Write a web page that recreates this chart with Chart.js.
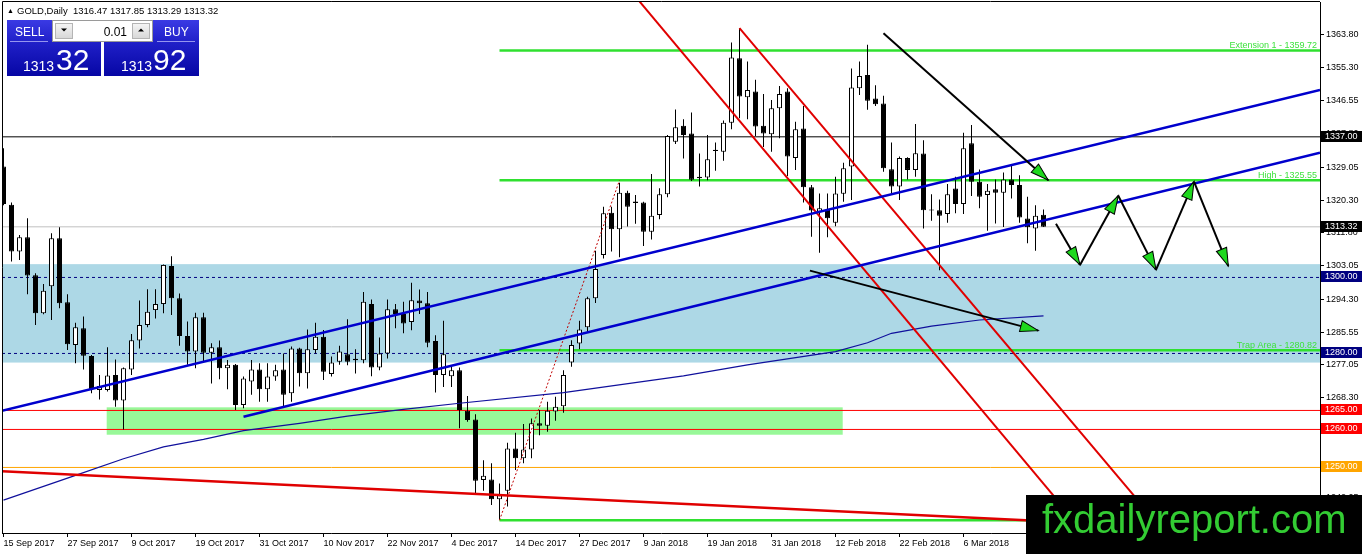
<!DOCTYPE html>
<html>
<head>
<meta charset="utf-8">
<script src="https://cdn.jsdelivr.net/npm/chart.js@4.4.1/dist/chart.umd.min.js"></script>
<style>
  body { margin: 0; background: #fff; }
  #wrap { position: relative; width: 1362px; height: 554px; overflow: hidden; }
</style>
</head>
<body>
<div id="wrap"><canvas id="myChart" width="1362" height="554"></canvas></div>
<script>
// GOLD daily candles, one per trading day from 15 Sep 2017
const opens = [
  1329.2, 1319.1, 1306.8, 1310.6, 1300.6, 1290.6, 1297.7, 1310.3, 1293.5, 1282.2,
  1286.6, 1279.3, 1270.4, 1270.4, 1274.3, 1267.6, 1275.8, 1283.4, 1287.5, 1291.4,
  1293.0, 1303.0, 1294.5, 1284.6, 1280.5, 1289.5, 1280.2, 1281.6, 1276.1, 1277.0,
  1266.4, 1272.6, 1275.8, 1270.6, 1273.9, 1275.8, 1269.5, 1281.3, 1274.8, 1280.9,
  1284.4, 1274.6, 1277.8, 1279.8, 1278.2, 1278.2, 1293.0, 1276.3, 1280.0, 1291.6,
  1290.4, 1288.3, 1293.9, 1293.2, 1283.3, 1274.3, 1274.0, 1275.6, 1264.9, 1262.6,
  1246.7, 1246.8, 1241.6, 1243.9, 1255.0, 1252.4, 1254.7, 1261.6, 1261.0, 1264.7,
  1266.1, 1277.6, 1282.6, 1286.9, 1294.5, 1305.9, 1317.0, 1312.7, 1322.3, 1320.0,
  1319.7, 1312.0, 1316.4, 1321.9, 1335.7, 1339.9, 1337.9, 1326.5, 1326.3, 1333.3,
  1333.1, 1340.7, 1357.7, 1347.4, 1348.9, 1339.9, 1337.7, 1344.5, 1348.9, 1331.4,
  1339.2, 1323.7, 1317.3, 1317.9, 1314.4, 1322.0, 1329.2, 1349.8, 1353.3, 1347.1,
  1345.8, 1328.5, 1323.9, 1331.4, 1328.3, 1332.6, 1317.6, 1317.7, 1316.7, 1323.4,
  1319.3, 1335.3, 1325.2, 1321.7, 1323.2, 1322.3, 1325.8, 1324.3, 1315.5, 1312.9,
  1316.47
];
const highs = [
  1334.0, 1319.7, 1311.2, 1315.6, 1301.1, 1298.3, 1311.6, 1313.2, 1295.6, 1288.1,
  1289.7, 1279.6, 1274.3, 1281.6, 1278.4, 1276.3, 1285.1, 1293.9, 1296.9, 1296.9,
  1303.4, 1305.6, 1295.8, 1288.4, 1290.7, 1290.7, 1282.7, 1283.4, 1278.3, 1277.2,
  1273.9, 1278.3, 1277.4, 1277.4, 1277.0, 1280.0, 1281.8, 1281.5, 1286.3, 1288.1,
  1286.2, 1279.2, 1282.0, 1289.0, 1281.1, 1296.2, 1294.2, 1284.2, 1294.2, 1293.0,
  1293.6, 1298.6, 1296.8, 1296.2, 1284.8, 1288.6, 1276.9, 1276.3, 1268.8, 1264.0,
  1251.9, 1251.1, 1245.8, 1256.5, 1259.1, 1261.4, 1262.9, 1265.1, 1267.3, 1268.6,
  1275.6, 1283.5, 1288.6, 1294.9, 1307.0, 1318.6, 1318.6, 1324.9, 1322.8, 1321.7,
  1319.9, 1327.2, 1323.5, 1337.5, 1344.2, 1341.6, 1343.4, 1332.6, 1337.5, 1335.5,
  1341.3, 1361.8, 1365.6, 1356.8, 1352.0, 1348.3, 1346.7, 1350.4, 1349.8, 1341.0,
  1345.1, 1324.3, 1322.1, 1322.1, 1326.5, 1330.2, 1355.0, 1356.8, 1361.2, 1350.6,
  1347.8, 1335.5, 1331.8, 1331.6, 1340.4, 1336.1, 1321.9, 1320.5, 1324.6, 1326.5,
  1338.1, 1340.1, 1328.4, 1324.6, 1325.8, 1327.6, 1329.3, 1326.9, 1321.2, 1319.0,
  1317.85
];
const lows = [
  1319.0, 1304.2, 1304.6, 1295.6, 1287.5, 1290.3, 1288.8, 1291.9, 1280.9, 1277.4,
  1275.8, 1269.5, 1267.9, 1270.0, 1266.0, 1260.0, 1274.3, 1281.3, 1286.9, 1289.2,
  1290.6, 1290.1, 1282.0, 1277.0, 1276.1, 1277.8, 1272.1, 1273.2, 1270.6, 1265.1,
  1265.6, 1269.1, 1267.3, 1267.3, 1272.8, 1266.0, 1267.3, 1271.3, 1270.8, 1280.0,
  1273.0, 1273.9, 1277.0, 1276.9, 1274.7, 1277.4, 1274.0, 1275.6, 1278.7, 1286.6,
  1285.3, 1286.1, 1290.4, 1281.6, 1269.7, 1271.2, 1271.2, 1260.3, 1262.0, 1243.3,
  1243.9, 1240.1, 1236.3, 1239.7, 1249.3, 1251.1, 1252.4, 1258.5, 1259.4, 1262.3,
  1264.4, 1276.5, 1281.1, 1285.4, 1293.3, 1305.0, 1306.8, 1305.3, 1313.4, 1314.1,
  1308.3, 1310.0, 1315.3, 1321.1, 1335.1, 1331.3, 1325.4, 1323.9, 1325.6, 1328.1,
  1330.7, 1339.0, 1341.9, 1341.6, 1337.2, 1334.3, 1333.1, 1336.6, 1326.7, 1328.3,
  1319.7, 1310.7, 1306.5, 1310.6, 1313.5, 1319.9, 1320.4, 1348.0, 1344.1, 1345.1,
  1327.8, 1322.1, 1320.4, 1325.8, 1326.5, 1312.9, 1314.9, 1301.9, 1314.4, 1316.9,
  1316.7, 1321.4, 1318.2, 1312.3, 1314.2, 1313.3, 1320.8, 1314.4, 1309.0, 1307.0,
  1313.29
];
const closes = [
  1319.3, 1306.8, 1310.6, 1300.5, 1290.6, 1296.5, 1310.3, 1293.2, 1282.4, 1286.9,
  1279.4, 1270.6, 1271.4, 1274.2, 1267.6, 1276.1, 1283.5, 1287.5, 1291.0, 1293.0,
  1303.3, 1294.5, 1284.6, 1280.5, 1289.5, 1280.2, 1281.6, 1276.1, 1277.0, 1266.4,
  1273.4, 1275.8, 1270.6, 1273.9, 1275.6, 1269.1, 1281.3, 1274.8, 1281.1, 1284.4,
  1275.2, 1277.6, 1280.5, 1277.8, 1278.6, 1293.6, 1276.3, 1280.0, 1291.6, 1290.4,
  1287.9, 1294.0, 1293.2, 1282.8, 1274.3, 1279.8, 1275.6, 1265.1, 1262.5, 1246.5,
  1247.8, 1241.6, 1242.7, 1255.0, 1252.4, 1254.7, 1261.6, 1261.0, 1264.9, 1266.0,
  1274.3, 1282.2, 1286.3, 1294.5, 1302.2, 1316.9, 1312.7, 1322.3, 1318.6, 1319.6,
  1312.0, 1316.2, 1321.9, 1337.2, 1339.5, 1337.5, 1325.7, 1326.1, 1331.1, 1333.6,
  1340.7, 1357.9, 1347.6, 1349.3, 1339.7, 1337.9, 1344.5, 1348.3, 1331.8, 1339.0,
  1323.7, 1317.6, 1318.2, 1315.6, 1322.1, 1328.7, 1350.0, 1353.0, 1346.5, 1345.6,
  1328.7, 1323.9, 1331.4, 1328.3, 1332.7, 1317.7, 1317.9, 1316.2, 1321.9, 1319.3,
  1334.0, 1325.2, 1321.2, 1322.8, 1322.3, 1325.8, 1324.3, 1315.8, 1313.2, 1316.2,
  1313.32
];

// time axis labels, one every 8 bars
const dateTickBars = [0, 8, 16, 24, 32, 40, 48, 56, 64, 72, 80, 88, 96, 104, 112, 120];
const dateLabels = ['15 Sep 2017', '27 Sep 2017', '9 Oct 2017', '19 Oct 2017', '31 Oct 2017',
  '10 Nov 2017', '22 Nov 2017', '4 Dec 2017', '14 Dec 2017', '27 Dec 2017', '9 Jan 2018',
  '19 Jan 2018', '31 Jan 2018', '12 Feb 2018', '22 Feb 2018', '6 Mar 2018'];
const priceTicks = [1363.80, 1355.30, 1346.55, 1337.80, 1329.05, 1320.30, 1311.80, 1303.05,
  1294.30, 1285.55, 1277.05, 1268.30, 1259.55, 1250.80, 1242.05];

// moving average, read at a few bars
const maBars = [0, 9, 15, 20, 25, 30, 37, 43, 50, 57, 70, 85, 93, 104, 108, 111, 116, 122, 130];
const maValues = [1241.4, 1247.9, 1252.3, 1255.4, 1257.4, 1259.7, 1261.6, 1263.5, 1265.3, 1266.9,
  1269.7, 1274.1, 1277.0, 1280.5, 1282.8, 1285.3, 1287.2, 1288.8, 1289.9];

// horizontal price levels
const levelPrices = [1337.00, 1313.32, 1300.00, 1280.00, 1265.00, 1260.00, 1250.00];

// fibonacci drawn from the December low to the January high
const fibNames = ['Extension 1', 'High', 'Trap Area', 'Low'];
const fibPrices = [1359.72, 1325.55, 1280.82, 1236.09];
const fibStartBar = 62;
const fibTrend = [[62, 1236.09], [77, 1325.55]];

// zones [from bar, to bar, top, bottom]
const trapZone = [null, null, 1303.5, 1277.6];
const supportBox = [12.9, 104.9, 1265.82, 1258.61];

// trend lines as [bar, price] pairs
const blueUpper = [[-0.19, 1264.9], [164.56, 1349.33]];
const blueLower = [[30, 1263.35], [164.56, 1332.83]];
const redLower = [[-0.19, 1249.0], [164.56, 1232.4]];
const redChannel1 = [[78, 1376.4], [140, 1220.6]];
const redChannel2 = [[92, 1365.6], [150, 1220.9]];
const arrowDown1 = [[110, 1364.25], [130.6, 1325.6]];
const arrowDown2 = [[100.8, 1301.8], [129.35, 1286.0]];
const zigzag = [[131.56, 1314.1], [134.56, 1303.3], [139.35, 1321.5], [144.06, 1302.0],
  [148.81, 1325.2], [153.1, 1303.0]];

const xMin = -0.1875, xMax = 164.5625;
const yMin = 1232.75, yMax = 1372.48;

const levelColors = ['#000000', '#c0c0c0', '#000080', '#000080', '#ff0000', '#ff0000', '#ffa500'];
const tagColors = ['#000000', '#000000', '#000080', '#000080', '#ff0000', '#ff0000', '#ffa500'];
const fibColor = '#2fe02f';
const FONT = '"Liberation Sans", Arial, sans-serif';

function lineSet(points, color, width, order, extra) {
  return Object.assign({
    type: 'line',
    data: points.map(p => ({ x: p[0], y: p[1] })),
    borderColor: color,
    borderWidth: width,
    pointRadius: 0,
    fill: false,
    tension: 0,
    clip: 0,
    order: order
  }, extra || {});
}

const datasets = [];

// arrows and trend lines on top
for (let k = 0; k < zigzag.length - 1; k++) {
  datasets.push(lineSet([zigzag[k], zigzag[k + 1]], '#000', 2, 1, { arrow: true }));
}
datasets.push(lineSet(arrowDown1, '#000', 2, 1, { arrow: true }));
datasets.push(lineSet(arrowDown2, '#000', 2, 1, { arrow: true }));
datasets.push(lineSet(blueUpper, '#0000cd', 2.5, 2));
datasets.push(lineSet(blueLower, '#0000cd', 2.5, 2));
datasets.push(lineSet(redChannel1, '#e00000', 2, 2));
datasets.push(lineSet(redChannel2, '#e00000', 2, 2));
datasets.push(lineSet(redLower, '#e00000', 2.5, 2));
datasets.push(lineSet(maBars.map((b, k) => [b, maValues[k]]), '#10109c', 1.2, 3));
datasets.push(lineSet(fibTrend, '#c00000', 1, 3, { borderDash: [2, 2] }));

// candles
datasets.push({
  type: 'bar',
  data: closes.map((c, i) => ({ x: i, y: [opens[i], c] })),
  backgroundColor: closes.map((c, i) => (c >= opens[i] ? '#ffffff' : '#000000')),
  borderColor: '#000',
  borderWidth: 1,
  borderSkipped: false,
  barThickness: 5,
  inflateAmount: 0,
  grouped: false,
  order: 9
});
datasets.push({
  type: 'bar',
  data: closes.map((c, i) => ({ x: i, y: [lows[i], highs[i]] })),
  backgroundColor: '#000',
  borderWidth: 0,
  barThickness: 1,
  inflateAmount: 0,
  grouped: false,
  order: 10
});

// fibonacci levels and horizontal lines behind the candles
fibPrices.forEach(p => datasets.push(lineSet([[fibStartBar, p], [xMax, p]], fibColor, 2.5, 12)));
levelPrices.forEach((p, k) => {
  datasets.push(lineSet([[xMin, p], [xMax, p]], levelColors[k], 1, 13,
    levelColors[k] === '#000080' ? { borderDash: [3, 3] } : {}));
});

function arrowHead(ctx, x0, y0, x1, y1) {
  const ang = Math.atan2(y1 - y0, x1 - x0);
  ctx.save();
  ctx.translate(x1, y1);
  ctx.rotate(ang);
  ctx.beginPath();
  ctx.moveTo(0, 0);
  ctx.lineTo(-18, -5.5);
  ctx.lineTo(-18, 5.5);
  ctx.closePath();
  ctx.fillStyle = '#1ed81e';
  ctx.fill();
  ctx.strokeStyle = '#000';
  ctx.lineWidth = 1;
  ctx.stroke();
  ctx.restore();
}

const overlay = {
  id: 'overlay',
  beforeDatasetsDraw(chart) {
    const { ctx, chartArea: a, scales: { x, y } } = chart;
    ctx.save();
    ctx.beginPath();
    ctx.rect(a.left, a.top, a.width, a.height);
    ctx.clip();
    [[trapZone, '#add8e6'], [supportBox, '#98f898']].forEach(([z, col]) => {
      const x0 = z[0] === null ? a.left : x.getPixelForValue(z[0]);
      const x1 = z[1] === null ? a.right : x.getPixelForValue(z[1]);
      const y0 = y.getPixelForValue(z[2]);
      const y1 = y.getPixelForValue(z[3]);
      ctx.fillStyle = col;
      ctx.fillRect(x0, y0, x1 - x0, y1 - y0);
    });
    ctx.restore();
  },
  afterDatasetsDraw(chart) {
    const { ctx, chartArea: a, scales: { y } } = chart;
    chart.data.datasets.forEach((ds, k) => {
      if (!ds.arrow) return;
      const pts = chart.getDatasetMeta(k).data;
      const p0 = pts[pts.length - 2], p1 = pts[pts.length - 1];
      arrowHead(ctx, p0.x, p0.y, p1.x, p1.y);
    });
    ctx.save();
    ctx.font = '9px ' + FONT;
    ctx.fillStyle = '#3ee23e';
    ctx.textAlign = 'right';
    ctx.textBaseline = 'alphabetic';
    fibPrices.forEach((p, k) => {
      ctx.fillText(fibNames[k] + ' - ' + p.toFixed(2), a.right - 3, y.getPixelForValue(p) - 2);
    });
    ctx.restore();
  },
  afterDraw(chart) {
    const { ctx, chartArea: a, scales: { y } } = chart;
    ctx.save();
    // frame on the left and top
    ctx.strokeStyle = '#000';
    ctx.lineWidth = 1;
    ctx.beginPath();
    ctx.moveTo(a.left + 0.5, a.bottom);
    ctx.lineTo(a.left + 0.5, a.top - 0.5);
    ctx.lineTo(a.right, a.top - 0.5);
    ctx.stroke();

    // price tags on the right axis
    ctx.font = '9px ' + FONT;
    ctx.textBaseline = 'middle';
    levelPrices.forEach((p, k) => {
      const py = Math.round(y.getPixelForValue(p));
      ctx.fillStyle = tagColors[k];
      ctx.fillRect(a.right + 1, py - 6, chart.width - a.right - 1, 11);
      ctx.fillStyle = '#fff';
      ctx.fillText(p.toFixed(2), a.right + 5, py);
    });

    // header
    ctx.fillStyle = '#000';
    ctx.font = '7px ' + FONT;
    ctx.textBaseline = 'alphabetic';
    ctx.fillText('\u25B2', 7, 13);
    ctx.font = '9.5px ' + FONT;
    ctx.fillText('GOLD,Daily  1316.47 1317.85 1313.29 1313.32', 17, 14);

    // one click trading panel
    [[7, 94, 'SELL', 15, 10, 48, '1313', 23, '32', 56],
     [104, 95, 'BUY', 164, 157, 195, '1313', 121, '92', 153]].forEach(b => {
      const g = ctx.createLinearGradient(0, 20, 0, 76);
      g.addColorStop(0, '#3a3ae4');
      g.addColorStop(0.4, '#2020c8');
      g.addColorStop(1, '#0606a4');
      ctx.fillStyle = g;
      ctx.fillRect(b[0], 20, b[1], 56);
      ctx.fillStyle = '#fff';
      ctx.font = '12px ' + FONT;
      ctx.fillText(b[2], b[3], 36);
      ctx.strokeStyle = 'rgba(200,200,255,0.7)';
      ctx.beginPath();
      ctx.moveTo(b[4], 41.5);
      ctx.lineTo(b[5], 41.5);
      ctx.stroke();
      ctx.font = '14px ' + FONT;
      ctx.fillText(b[6], b[7], 71);
      ctx.font = '30px ' + FONT;
      ctx.fillText(b[8], b[9], 70);
    });
    ctx.fillStyle = '#fff';
    ctx.fillRect(52, 20, 101, 22);
    ctx.strokeStyle = '#9a9a9a';
    ctx.strokeRect(52.5, 20.5, 100, 21);
    [[55, 1], [132, -1]].forEach(([bx, dir]) => {
      const g = ctx.createLinearGradient(0, 23, 0, 39);
      g.addColorStop(0, '#f6f6f6');
      g.addColorStop(1, '#d6d6d6');
      ctx.fillStyle = g;
      ctx.fillRect(bx, 23, 18, 16);
      ctx.strokeStyle = '#b4b4b4';
      ctx.strokeRect(bx + 0.5, 23.5, 17, 15);
      ctx.fillStyle = '#000';
      ctx.beginPath();
      ctx.moveTo(bx + 6, 30 - dir * 1.5);
      ctx.lineTo(bx + 12, 30 - dir * 1.5);
      ctx.lineTo(bx + 9, 30 + dir * 1.5);
      ctx.closePath();
      ctx.fill();
    });
    ctx.fillStyle = '#000';
    ctx.font = '12px ' + FONT;
    ctx.textAlign = 'right';
    ctx.fillText('0.01', 127, 36);
    ctx.textAlign = 'left';

    // watermark
    ctx.fillStyle = '#000';
    ctx.fillRect(1026, 495, chart.width - 1026, chart.height - 495);
    ctx.fillStyle = '#33cc33';
    ctx.font = '40px ' + FONT;
    ctx.fillText('fxdailyreport.com', 1042, 533);
    ctx.restore();
  }
};

const canvas = document.getElementById('myChart');
const ctx = canvas.getContext('2d');

const myChart = new Chart(ctx, {
  type: 'bar',
  data: { datasets: datasets },
  options: {
    responsive: false,
    animation: false,
    devicePixelRatio: 1,
    events: [],
    layout: { autoPadding: false, padding: { left: 2, top: 2, right: 0, bottom: 0 } },
    plugins: { legend: { display: false }, tooltip: { enabled: false } },
    scales: {
      x: {
        type: 'linear',
        position: 'bottom',
        min: xMin,
        max: xMax,
        offset: false,
        grid: { drawOnChartArea: false, drawTicks: true, tickLength: 4, color: '#000', offset: false },
        border: { display: true, color: '#000' },
        afterBuildTicks: s => { s.ticks = dateTickBars.map(v => ({ value: v })); },
        afterFit: s => { s.height = 21; s.paddingLeft = 0; s.paddingRight = 0; },
        ticks: {
          autoSkip: false,
          maxRotation: 0,
          align: 'start',
          padding: 1,
          color: '#000',
          font: { family: FONT, size: 9 },
          callback: (v, i) => dateLabels[i]
        }
      },
      y: {
        type: 'linear',
        position: 'right',
        min: yMin,
        max: yMax,
        grid: { drawOnChartArea: false, drawTicks: true, tickLength: 4, color: '#000' },
        border: { display: true, color: '#000' },
        afterBuildTicks: s => { s.ticks = priceTicks.map(v => ({ value: v })); },
        afterFit: s => { s.width = 42; s.paddingTop = 0; s.paddingBottom = 0; },
        ticks: {
          autoSkip: false,
          padding: 2,
          color: '#000',
          font: { family: FONT, size: 9 },
          callback: v => v.toFixed(2)
        }
      }
    }
  },
  plugins: [overlay]
});
</script>
</body>
</html>
